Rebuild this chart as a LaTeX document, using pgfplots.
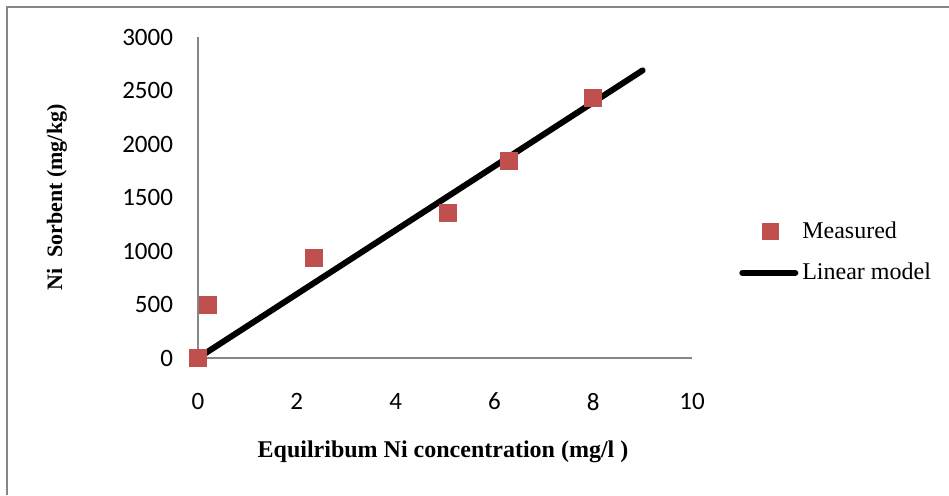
\documentclass[border=0pt]{standalone}
\usepackage{pgfplots}
\pgfplotsset{compat=1.18}
\usepackage{fontspec}
\setmainfont{Liberation Serif}
\newfontfamily\carlito{Carlito}
\definecolor{excelred}{RGB}{192,80,77}
\definecolor{axisgray}{RGB}{134,134,134}
\begin{document}
\begin{tikzpicture}
\useasboundingbox (0,0) rectangle (474.5pt,247.5pt);
% outer frame (top and left only)
\draw[axisgray, line width=1pt] (3.5pt,0) -- (3.5pt,244pt) -- (474.5pt,244pt);
\begin{axis}[
    at={(99pt,68.5pt)}, anchor=south west,
    scale only axis, width=247pt, height=160.5pt,
    xmin=0, xmax=10, ymin=0, ymax=3000,
    xtick={0,2,...,10}, ytick={0,500,...,3000},
    axis x line*=bottom, axis y line*=left,
    axis line style={axisgray, line width=0.75pt, -},
    major tick length=0pt,
    tick label style={font=\carlito\fontsize{12.5}{14}\selectfont},
    /pgf/number format/assume math mode=true,
    /pgf/number format/1000 sep={},
    xticklabel style={yshift=-14pt},
    yticklabel style={xshift=-9pt},
    xlabel={\textbf{Equilribum Ni concentration (mg/l )}},
    ylabel={\textbf{Ni\ \ Sorbent (mg/kg)}},
    xlabel style={font=\fontsize{12}{14}\selectfont, at={(axis description cs:0.496,0)}, anchor=center, yshift=-47pt},
    ylabel style={font=\fontsize{11}{13}\selectfont, at={(axis description cs:-0.2854,0.5)}, anchor=center},
    clip=false,
    legend style={at={(1.095,0.33)}, anchor=west, draw=none, fill=none,
        font=\fontsize{12}{14}\selectfont, inner sep=0pt, row sep=7pt,
        legend cell align=left},
]
\addplot[only marks, mark=square*, mark size=4.25pt, color=excelred,
    legend image code/.code={\draw[excelred, fill=excelred] (12.25pt,-4pt) rectangle (20.25pt,4pt);}]
  coordinates {(0,0) (0.2,495) (2.35,935) (5.05,1355) (6.3,1840) (8.0,2428)};
\addlegendentry{Measured}
\addplot[black, line width=3pt, line cap=round,
    legend image code/.code={\draw[black, line width=3pt, line cap=round] (2pt,0pt) -- (28.5pt,0pt);}]
  coordinates {(0,0) (9,2688)};
\addlegendentry{Linear model}
\end{axis}
\end{tikzpicture}
\end{document}
